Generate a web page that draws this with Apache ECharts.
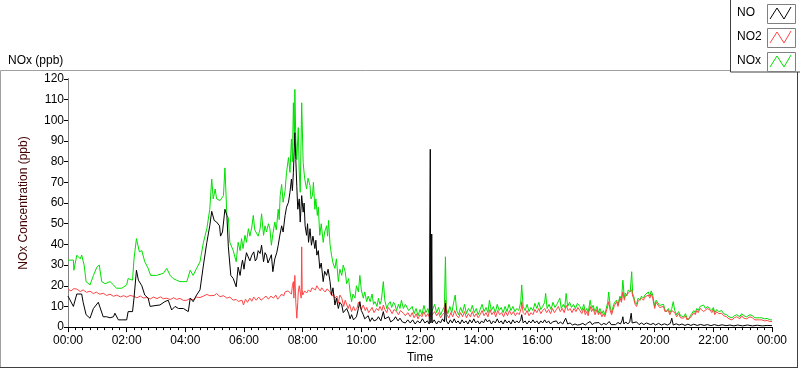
<!DOCTYPE html>
<html>
<head>
<meta charset="utf-8">
<script src="https://cdn.jsdelivr.net/npm/echarts@6/dist/echarts.min.js"></script>
<style>
  html, body { margin: 0; padding: 0; background: #fff; }
  #chart { width: 800px; height: 369px; }
</style>
</head>
<body>
<div id="chart"></div>
<script>
// time in minutes since 00:00, value in ppb
var noPoints = [
  [0,15],[11,10],[18,16],[28,16],[31,12],[37,6],[45,4.3],[52,9],[62,12],[65,11.5],[72,5],[79,5],[86,4.5],[93,5],
  [96,6.7],[103,3.5],[110,3.5],[120,3.5],[123,7.5],[132,7.5],[135,14],[140,27.5],[144,22.7],[151,20],[157,15.5],
  [164,14],[168,10],[178,10.4],[188,10.7],[198,12.3],[205,13],[212,8.3],[219,10],[226,9],[236,9],[246,7.5],[250,14],
  [256,12.3],[263,15.5],[270,18],[277,30],[284,41],[290,49],[294,56],[299,51.6],[304,50.8],[310,49],[312,44],[316,46],
  [321,57],[325,54],[328,38.8],[333,25],[338,23.5],[344,19.5],[348,29],
  [352,25],[355,30],[357,32.4],[360,28],[362,31.6],[365,36],[369,35.6],[372,32],[376,34.8],[380,36.4],[383,32],
  [386,33],[389,37],[393,35.6],[396,39.6],[400,31.6],[403,36],[406,34.8],[409,31],[413,31.6],[416,35],[419,26.8],
  [423,33],[427,36],[430,39.6],[433,44],[437,49],[440,46],[444,54],[447,58],[451,60.4],[454,65.2],[457,71.6],
  [459,66],[461,74.8],[464,94],[466,81],[468,68],[470,57],[473,62],[475,50.8],[478,63.6],[481,55.6],[483,60],
  [485,49],[488,44.4],[490,50],[492,41],[495,47.6],[498,39.6],[501,44],[505,38],[507,42],[509,34.8],[512,37],
  [515,28.4],[518,31],[522,22],[525,27],[529,25],[532,28],[536,22],[539,15.5],[542,19],[546,10.7],[549,14],[553,9],
  [556,12],[560,10.7],[563,7],[567,7.5],[570,9],[574,6.7],[577,4],[580,6],[584,3.5],[587,2.7],[590,5],[594,9],
  [597,12.3],[600,8],[604,6],[607,4],[611,4.3],[614,5.5],[618,2.7],[622,4.5],[626,3],[631,3.5],[635,5],[640,3],
  [645,7.5],[648,4],[652,3.5],[656,5],[660,2.5],[666,3.5],[670,5],[675,3],[679,4.3],[684,2.5],[690,2],[695,3.5],
  [700,2],[705,3.5],[710,1.5],[715,3],[720,2],[725,4],[730,2],[735,3],[739,1.5],[740,2],[741,86],[742,2],[743,3],
  [744,45],[745,2],[749,3.5],[754,1.5],[758,3],[762,2],[766,4],[770,2.5],[772,11.5],[774,3],[778,1.5],[782,3.5],
  [786,2],[790,4],[794,2],[798,3],[802,1.5],[806,3.5],[810,2],[814,3],[818,1.5],[822,3.5],[826,2],[830,4],[834,2],
  [838,3],[842,1.5],[846,3],[850,2],[854,4],[858,2.5],[862,3.5],[866,1.5],[870,3],[874,2],[878,4],[882,2],[886,3],
  [890,1.5],[894,3.5],[898,2],[902,3],[906,1.5],[910,3.5],[914,2],[918,3],[922,2],[926,3.5],[928,6],[931,2],[935,3],
  [939,1.5],[943,3],[947,2],[951,3.5],[955,2],[959,3],[963,1.5],[967,3],[971,2],[975,3.5],[979,2],[983,3],[987,1.5],
  [991,2.5],[995,2],[999,3],[1003,1.5],[1007,2.5],[1012,1.5],[1018,4.3],[1022,1.5],[1027,2],[1032,1],[1037,1.5],
  [1042,1],[1047,1.2],[1053,1.8],[1058,1],[1063,2],[1068,2.7],[1072,1.2],[1077,2],[1081,1.4],[1086,2.2],[1091,1],
  [1096,1.8],[1101,1.2],[1107,2.7],[1111,1.2],[1115,2],[1120,1.2],[1125,2.2],[1130,1.5],[1133,3],[1135,5],[1137,1.5],
  [1141,2.5],[1145,1.5],[1149,2.5],[1152,6.7],[1154,2],[1158,1.5],[1163,2.5],[1168,1.2],[1173,2],[1178,1.2],
  [1183,2],[1187,2.5],[1192,1.2],[1197,1.8],[1202,1],[1208,1.8],[1214,1],[1220,1.6],[1226,1],[1232,1.8],[1235,4.3],
  [1238,1],[1244,1.6],[1250,1],[1256,1.5],[1262,0.8],[1268,1.4],[1274,0.8],[1280,1.4],[1287,0.8],[1294,1.3],
  [1301,0.8],[1308,1.2],[1315,0.7],[1322,1.2],[1330,0.7],[1338,1.1],[1346,0.7],[1354,1],[1362,0.6],[1370,1],
  [1380,0.6],[1390,1],[1400,0.6],[1410,0.9],[1420,0.6],[1430,0.8],[1440,0.7]
];

var no2Points = [
  [0,18.4],[6,17.5],[12,18.6],[18,18.4],[25,17.2],[31,18],[38,16.8],[45,17.4],[52,16.2],[58,16.9],[65,15.9],
  [72,16.4],[79,15.3],[86,15.9],[93,14.9],[100,15.5],[107,14.6],[114,15.2],[120,14.5],[127,15.3],[134,14.9],
  [141,14.2],[148,15],[154,14.1],[161,14.3],[168,13.6],[175,14.5],[182,13.8],[189,14.6],[195,13.7],[202,14],
  [209,13.3],[216,14.2],[222,13.4],[229,13.9],[236,12.9],[243,13],[250,13.8],[256,13.2],[263,14.5],[270,14.3],
  [277,15],[284,15.8],[290,15.2],[294,16],[299,15.3],[304,16.2],[311,14.7],[318,15.2],[325,14],[331,14.5],[338,13],
  [344,13.4],[348,12.4],
  [352,11.9],[356,13],[359,10.7],[363,13.5],[367,12],[372,14],[376,12.5],[380,14.5],[385,13],[390,14.5],[395,13],
  [400,14],[405,15],[410,13.5],[415,15],[420,14],[425,15.5],[429,13.5],[433,14.7],[437,16],[441,15],[444,17],
  [447,16.3],[450,17.5],[454,18],[457,16],[459,20],[461,22],[462,14],[464,25],[466,12],[468,4.3],[470,12],[471,17],
  [473,20],[475,17],[477,14],[478,38.8],[479,18],[480,15.5],[484,17.5],[488,16.5],[492,18],[496,17],[499,19],
  [502,19.5],[506,18],[509,20],[512,18.8],[516,17.5],[519,19],[522,18],[526,17],[530,18.5],[536,17],[540,15],
  [543,16],[546,14],[550,15],[553,11.5],[556,15.5],[560,14],[564,10],[567,13],[570,12.3],[573,9],[576,11],[580,7.5],
  [584,10],[587,8],[591,9],[594,12],[597,10],[600,8.5],[604,10.7],[608,8],[611,9.5],[615,7],[618,7.5],[622,9.5],
  [626,7],[631,9],[635,8],[638,10],[642,8],[645,10.7],[648,8.5],[652,7],[655,9.5],[659,8.3],[663,6.5],[667,8.5],
  [672,7.5],[676,6],[680,8],[686,6.7],[690,5.5],[695,7],
  [700,5],[704,7],[708,4.5],[712,6.5],[716,4],[720,6],[724,5],[728,7.5],[732,5],[736,6.5],[740,4.5],[745,6],
  [750,7.5],[754,5.5],[758,7],[762,4.5],[766,6],[770,7],[772,13],[775,6],[779,4.5],[783,7],[787,5],[791,8],
  [795,5.5],[799,4.5],[803,7],[807,5],[811,7.5],[815,4.5],[819,6.5],[823,5],[827,7.5],[831,5],[835,6.5],[839,4.5],
  [843,6],[847,8],[851,5.5],[855,7],[859,5],[863,8.5],[867,6],[871,7.5],[875,5],[879,8],[883,6],[887,7],[891,5],
  [895,7.5],[899,5.5],[903,8],[907,6],[911,7.5],[915,5.5],[919,7],[923,6],[927,9],[928,12.3],[931,7],[935,6],
  [939,8],[943,5.5],[947,7],[951,6],[955,8.5],[959,7],[963,9],[967,6.5],[971,8],[975,9],[979,7],[983,8.5],
  [987,6.5],[991,9],[995,7],[999,8.5],[1003,10],[1007,7.5],[1011,9],[1015,7],[1019,10.5],[1023,8],[1027,9],
  [1031,7],[1035,9],[1039,7.5],[1043,9.5],
  [1047,8],[1051,6.5],[1055,9],[1058,6],[1061,7.5],[1064,5.5],[1068,10],[1071,7.5],[1074,9],[1078,6],[1082,8.5],
  [1085,6],[1088,7.5],[1092,5],[1095,6.5],[1098,5],[1101,7.5],[1104,10],[1106,12.3],[1109,8],[1112,6],[1115,8.5],
  [1118,10.5],[1122,12.3],[1125,10],[1129,14],[1132,12],[1135,17],[1138,13],[1140,15],[1143,14.7],[1146,16.5],
  [1150,17],[1153,18],[1155,15],[1157,14],[1160,11],[1163,10],[1166,12.5],[1170,12.3],[1173,14],[1177,13],
  [1180,14.5],[1184,15],[1187,15.5],[1190,14],[1193,16],[1196,14],[1200,9],[1203,12],[1207,11.5],[1210,9.5],
  [1214,9],[1218,10],[1221,7.5],[1224,6.7],[1228,8],[1231,6],[1235,8],[1238,7.5],[1241,7],[1245,5],[1249,6.5],
  [1253,4.5],[1259,4.3],[1263,5.5],[1266,3.5],[1269,2.7],[1273,4.5],[1276,5],[1280,7],[1283,6],[1286,8],[1289,7],
  [1293,9],[1296,8.5],[1300,7.5],[1304,8],[1308,9],[1313,8.3],[1317,7],[1320,8.5],[1323,6],[1327,7.5],[1331,6.5],
  [1337,6.7],[1341,5.5],[1347,5],[1352,4],[1358,3.5],[1363,4.5],[1368,5],[1374,4],[1378,5.5],[1382,4.3],[1388,4],
  [1395,5],[1400,4.5],[1405,3.5],[1409,4.3],[1414,3.5],[1419,3.5],[1425,3],[1430,3.2],[1436,2.7],[1440,2.7]
];

var noxPoints = [
  [0,32.4],[11,32.4],[12,27.5],[18,34.8],[25,33],[28,34.8],[33,30],[37,22],[45,20.4],[52,25],[59,29],[64,30],
  [69,22],[76,21],[86,22],[93,20.4],[99,18.8],[110,18.8],[120,20.4],[123,23.5],[132,22.7],[135,33],[140,42.8],
  [146,36.4],[151,37],[157,31.6],[164,28.4],[169,25],[181,25],[195,26],[202,28.4],[209,25],[215,23.5],[222,22.7],
  [229,22],[243,22],[250,27.5],[256,25],[263,28.4],[270,31.6],[277,41],[284,47.6],[290,57],[294,71.6],[297,62],
  [301,66.8],[304,62],[311,61.2],[318,63.6],[321,77],[325,54],[328,53],[331,41],[338,37],[344,31.6],[348,41],
  [352,37],[355,42.8],[358,38],[362,44.4],[365,41],[369,47.6],[372,44],[376,48.4],[379,54],[382,47],[386,47.6],
  [389,44],[393,47.6],[396,54.8],[400,44.4],[403,49],[406,46],[410,50],[413,47.6],[416,39.6],[419,45],[423,50.8],
  [426,47],[430,57],[432,52],[434,63.6],[437,69],[440,60.4],[444,66],[447,74.8],[451,82],[454,74.8],[457,91],
  [459,80],[461,108.5],[463,88],[464,115],[466,90],[468,81],[471,96.5],[473,75],[475,65.2],[478,108.5],[481,79.6],
  [484,72],[488,66.8],[491,72],[495,68.4],[497,62],[500,63.6],[502,70],[505,57],[507,62],[510,54],[512,58],
  [515,44.4],[518,50],[522,41],[525,46],[529,49],[531,44],[533,51.6],[536,40],[539,34.8],[542,31],[546,28.4],
  [549,33],[553,22],[556,28],[560,25],[563,30],[567,26.8],[570,21],[574,23.5],[577,17],[580,12.3],[583,16],[587,14],
  [590,20],[594,17],[597,25],[600,18],[604,14],[607,17],[611,12.3],[614,15],[618,12.3],[622,16],[625,11],[628,12.3],
  [632,10],[635,14],[638,11],[641,13],[645,22],[648,13],[652,9],[655,11],[659,12.3],[662,9.5],[666,12],[669,10.7],
  [672,8],[676,11],[679,9],[682,13],[686,9],[690,11],[693,10.7],[697,8],
  [700,7.5],[704,10],[708,6.5],[712,9],[716,5.5],[720,8.5],[724,6],[728,10.5],[732,7],[736,9],[740,5.5],[745,8],
  [750,11],[754,7],[758,9.5],[762,6],[766,8],[770,10],[772,34],[774,9],[777,6.5],[781,10],[785,7],[789,12],
  [792,15.5],[795,8],[799,6],[803,9.5],[807,7],[811,11],[815,6.5],[819,9],[823,7.5],[827,10.5],[831,7],[835,9],
  [839,6],[843,8.5],[847,11],[851,7.5],[855,9.5],[859,7],[862,13],[866,8],[870,10],[874,7],[878,11],[882,8],
  [886,9.5],[890,7],[894,10],[898,7.5],[902,11],[906,8],[910,10],[914,7.5],[918,9],[922,8],[926,12],[928,20.4],
  [931,10],[935,8],[939,11],[943,7.5],[947,9.5],[951,8],[955,11.5],[959,9],[963,12],[967,8.5],[971,10],[975,12],
  [977,16.3],[980,9],[984,11],[988,8.5],[992,12],[996,9.5],[1000,11],[1004,13],[1006,14],[1009,9],[1013,11],
  [1016,9.5],[1019,16.3],[1022,10],[1026,12],[1030,9.5],[1034,11],[1038,9],[1042,11.5],
  [1047,10],[1051,8],[1055,11],[1058,7.5],[1061,9],[1064,7],[1068,13],[1071,9],[1074,10.5],[1078,7.5],[1082,10],
  [1085,7],[1088,9],[1092,6.5],[1095,8],[1098,6],[1101,9],[1104,12],[1106,17],[1109,10],[1112,7],[1115,10],
  [1118,12],[1122,13],[1125,11],[1129,15],[1132,13],[1135,22.7],[1138,14],[1140,16.5],[1143,15],[1146,18],[1150,17],
  [1153,26.8],[1155,16],[1157,15],[1160,12],[1163,11],[1166,14],[1170,13],[1173,15],[1177,14],[1180,15.5],
  [1184,16],[1187,17],[1190,15],[1193,17.5],[1196,15.5],[1200,10],[1203,13],[1207,12.5],[1210,10.5],[1214,10],
  [1218,11],[1221,8.5],[1224,7.5],[1228,9],[1231,7],[1235,9],[1238,12.3],[1241,8],[1245,6],[1249,7.5],[1253,5.5],
  [1259,5],[1263,6.5],[1266,4.5],[1269,3.5],[1273,5.5],[1276,6],[1280,8],[1283,7],[1286,9],[1289,8],[1293,10],
  [1296,9.5],[1300,10.7],[1304,9],[1308,10],[1313,9],[1317,8],[1320,9.5],[1323,7],[1327,8.5],[1331,7.5],[1337,8],
  [1341,6.5],[1347,6],[1352,5],[1358,4.5],[1363,5.5],[1368,6],[1374,5],[1378,6.5],[1382,5.5],[1388,5],[1395,6],
  [1400,5.5],[1405,4.5],[1409,5],[1414,4.5],[1419,4.5],[1425,4],[1430,4.2],[1436,3.5],[1440,3.5]
];

var seriesNames = ['NO', 'NO2', 'NOx'];
var seriesColors = ['#000000', '#ff4444', '#00e000'];

function hhmm(v) {
  var h = Math.floor(v / 60) % 24;
  return (h < 10 ? '0' : '') + h + ':00';
}

var chart = echarts.init(document.getElementById('chart'));

var font = 'Liberation Sans';

// legend boxes drawn by hand, LabVIEW style
var legendGraphics = [
  { type: 'rect', shape: { x: 730.5, y: -1, width: 70, height: 73 }, style: { fill: '#fff', stroke: '#404040', lineWidth: 1 }, z: 10 }
];
var zig = [[770, 19], [777, 8], [784, 19], [791, 7]];
seriesNames.forEach(function (n, i) {
  var y0 = 4 + i * 24;
  legendGraphics.push({
    type: 'text', left: 737, top: y0 + 3, z: 11,
    style: { text: n, fill: '#000', font: '12px ' + font }
  });
  legendGraphics.push({
    type: 'rect', shape: { x: 767.5, y: y0 + 0.5, width: 28, height: 19 }, z: 11,
    style: { fill: '#fff', stroke: '#808080', lineWidth: 1 }
  });
  legendGraphics.push({
    type: 'polyline', z: 12,
    shape: { points: zig.map(function (p) { return [p[0], p[1] + i * 24]; }) },
    style: { stroke: seriesColors[i], lineWidth: 1, fill: null }
  });
});

var option = {
  animation: false,
  backgroundColor: '#fff',
  textStyle: { fontFamily: font },
  title: {
    text: 'NOx (ppb)', left: 3, top: 50,
    textStyle: { fontSize: 12, fontWeight: 'normal', color: '#000', fontFamily: font }
  },
  graphic: [
    { type: 'line', shape: { x1: 0.5, y1: 70.5, x2: 731, y2: 70.5 }, style: { stroke: '#a0a0a0', lineWidth: 1 } },
    { type: 'line', shape: { x1: 0.5, y1: 70.5, x2: 0.5, y2: 368 }, style: { stroke: '#a0a0a0', lineWidth: 1 } },
    { type: 'line', shape: { x1: 0, y1: 367.5, x2: 798, y2: 367.5 }, style: { stroke: '#404040', lineWidth: 1 } },
    { type: 'line', shape: { x1: 797.5, y1: 72, x2: 797.5, y2: 368 }, style: { stroke: '#404040', lineWidth: 1 } }
  ].concat(legendGraphics),
  grid: { left: 68, right: 28, top: 79, bottom: 40, show: false },
  xAxis: [{
    type: 'value', min: 0, max: 1440, interval: 120,
    name: 'Time', nameLocation: 'middle', nameGap: 24,
    nameTextStyle: { fontSize: 12, color: '#000' },
    axisLine: { show: true, lineStyle: { color: '#808080', width: 1 } },
    axisTick: { show: true, length: 5, inside: false, lineStyle: { color: '#000' } },
    minorTick: { show: true, splitNumber: 8, length: 3, lineStyle: { color: '#000' } },
    axisLabel: { fontSize: 12, color: '#000', margin: 8, formatter: hhmm },
    splitLine: { show: false }
  }, {
    type: 'value', min: 0, max: 1440, position: 'top',
    axisLine: { show: true, lineStyle: { color: '#000', width: 1 } },
    axisTick: { show: false }, axisLabel: { show: false }, splitLine: { show: false }
  }],
  yAxis: [{
    type: 'value', min: 0, max: 120, interval: 10,
    name: 'NOx Concentration (ppb)', nameLocation: 'middle', nameGap: 38,
    nameTextStyle: { fontSize: 12, color: '#400000' },
    axisLine: { show: true, lineStyle: { color: '#000', width: 1 } },
    axisTick: { show: true, length: 4, lineStyle: { color: '#000' } },
    axisLabel: { fontSize: 12, color: '#000', margin: 4 },
    splitLine: { show: false }
  }, {
    type: 'value', min: 0, max: 120, position: 'right',
    axisLine: { show: true, lineStyle: { color: '#808080', width: 1 } },
    axisTick: { show: false }, axisLabel: { show: false }, splitLine: { show: false }
  }],
  series: [
    { name: 'NOx', type: 'line', data: noxPoints, symbol: 'none', color: seriesColors[2], lineStyle: { width: 1 }, z: 2 },
    { name: 'NO2', type: 'line', data: no2Points, symbol: 'none', color: seriesColors[1], lineStyle: { width: 1 }, z: 3 },
    { name: 'NO', type: 'line', data: noPoints, symbol: 'none', color: seriesColors[0], lineStyle: { width: 1 }, z: 4 }
  ]
};

chart.setOption(option);
</script>
</body>
</html>
